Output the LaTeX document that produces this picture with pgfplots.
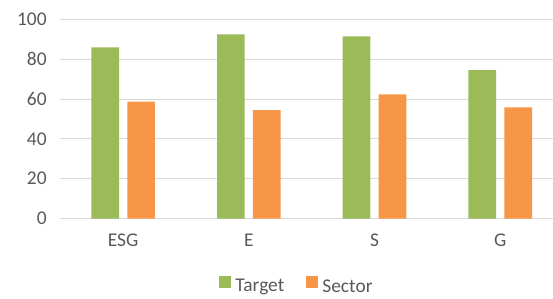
\documentclass[border=0pt]{standalone}
\usepackage{pgfplots}
\pgfplotsset{compat=1.18}
\usepackage{fontspec}
\setmainfont{Carlito}
\definecolor{cgreen}{HTML}{9BBB59}
\definecolor{corange}{HTML}{F79646}
\definecolor{ctext}{HTML}{595959}
\definecolor{cgrid}{HTML}{D9D9D9}
\begin{document}
\begin{tikzpicture}
\useasboundingbox (0,0) rectangle (553bp,299bp);
\begin{axis}[
  at={(60.3bp,80.5bp)}, anchor=south west,
  scale only axis,
  width=502.8bp, height=199bp,
  xmin=-0.5, xmax=3.5,
  ymin=0, ymax=100,
  ytick={0,20,40,60,80,100},
  xtick={0,1,2,3},
  xticklabels={ESG,E,S,G},
  axis line style={draw=none},
  major tick length=0pt,
  ymajorgrids,
  grid style={cgrid, line width=1bp},
  font=\fontsize{19.5}{23}\selectfont,
  tick label style={text=ctext, inner sep=0pt},
  /pgf/number format/assume math mode=true,
  yticklabel shift=13.5bp,
  yticklabel style={anchor=east},
  xticklabel style={anchor=base, yshift=-27.5bp},
  legend columns=2,
  legend style={at={(0.4684,-0.288)}, anchor=north, draw=none, fill=none,
    inner sep=0pt, outer sep=0pt,
    nodes={inner sep=0pt, text=ctext, font=\fontsize{19.5}{23}\selectfont},
    column sep=4.7bp,
    /tikz/every even column/.append style={column sep=21.7bp}},
  legend image code/.code={\fill[#1] (0bp,-1bp) rectangle (11.7bp,10.7bp);},
]
\addplot[ybar, bar width=0.22, bar shift=-0.143, fill=cgreen, draw=none]
  coordinates {(0,86.0) (1,92.5) (2,91.5) (3,74.6)};
\addplot[ybar, bar width=0.22, bar shift=0.143, fill=corange, draw=none]
  coordinates {(0,58.7) (1,54.4) (2,62.4) (3,55.9)};
\legend{Target,Sector}
\end{axis}
\end{tikzpicture}
\end{document}
